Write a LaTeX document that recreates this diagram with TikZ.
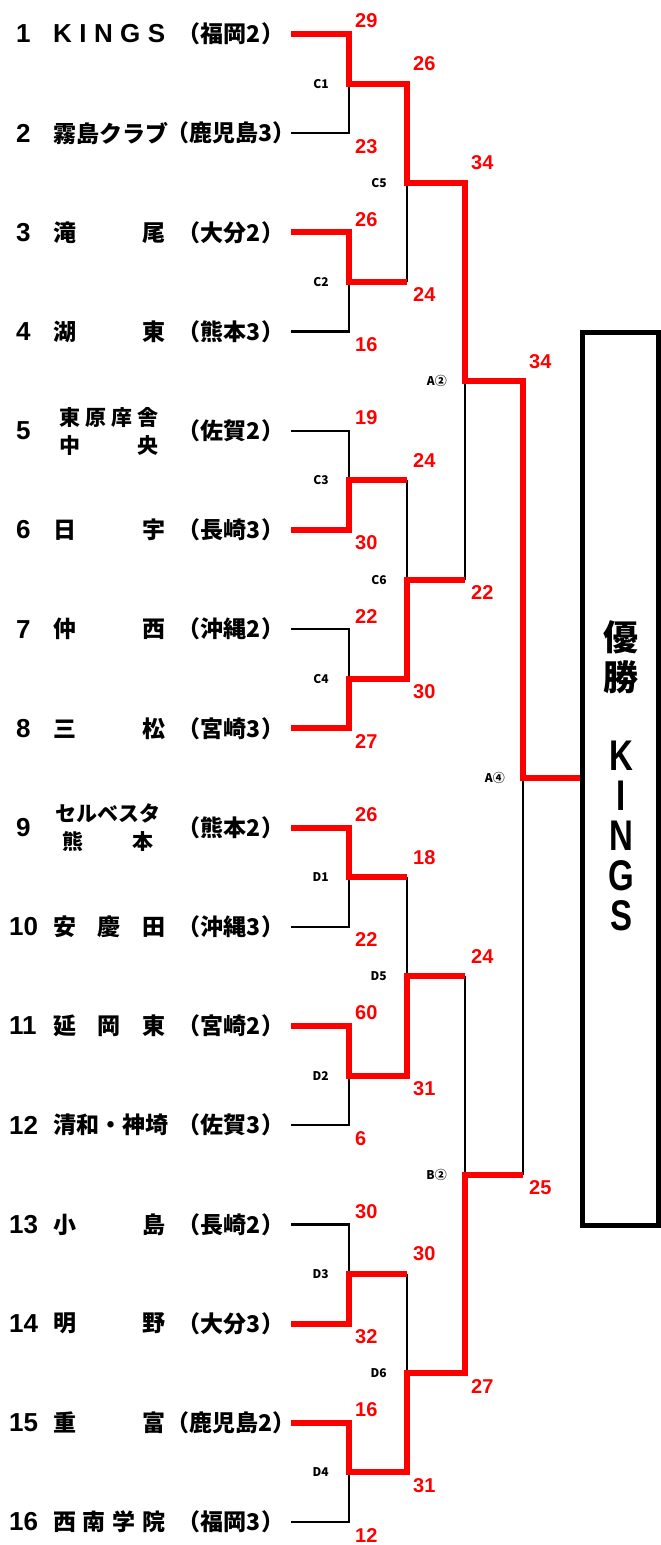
\documentclass[tikz,border=0pt]{standalone}
\usepackage{fontspec}
\setmainfont{Liberation Sans}
\newfontfamily\jp{Noto Sans CJK JP}
\usetikzlibrary{positioning}
\newcommand{\tallglyph}[1]{\scalebox{1}[1.3]{\rmfamily\bfseries\fontsize{33}{40}\selectfont #1}}

\begin{document}
\begin{tikzpicture} [
	x=1pt,y=-1pt,
	lose/.style={draw=black,line width=2.5pt},
	win/.style={draw=red,line width=6pt},
	num/.style={anchor=west,inner sep=0pt,font=\bfseries\fontsize{26}{26}\selectfont},
	tname/.style={anchor=west,inner sep=0pt,font=\jp\bfseries\fontsize{23}{23}\selectfont},
	twoline/.style={inner sep=0pt,align=center,font=\jp\bfseries\fontsize{21}{28}\selectfont},
	pref/.style={inner sep=0pt,font=\jp\bfseries\fontsize{23}{23}\selectfont},
	score/.style={anchor=west,inner sep=0pt,text=red,font=\bfseries\fontsize{20}{20}\selectfont},
	mlabel/.style={inner sep=0pt,font=\jp\bfseries\fontsize{12}{12}\selectfont},
	champ/.style={draw,line width=5pt,minimum width=76pt,minimum height=893pt}
]
\useasboundingbox (0,0) rectangle (661,1545);

\coordinate (t1) at (291,34);
\coordinate (t2) at (291,133.2);
\coordinate (t3) at (291,232.4);
\coordinate (t4) at (291,331.6);
\coordinate (t5) at (291,430.8);
\coordinate (t6) at (291,530);
\coordinate (t7) at (291,629.2);
\coordinate (t8) at (291,728.4);
\coordinate (t9) at (291,827.6);
\coordinate (t10) at (291,926.8);
\coordinate (t11) at (291,1026);
\coordinate (t12) at (291,1125.2);
\coordinate (t13) at (291,1224.4);
\coordinate (t14) at (291,1323.6);
\coordinate (t15) at (291,1422.8);
\coordinate (t16) at (291,1522);

\coordinate (C1) at (349,83.6);
\coordinate (C2) at (349,282);
\coordinate (C3) at (349,480.4);
\coordinate (C4) at (349,678.8);
\coordinate (D1) at (349,877.2);
\coordinate (D2) at (349,1075.6);
\coordinate (D3) at (349,1274);
\coordinate (D4) at (349,1472.4);
\coordinate (C5) at (407,182.8);
\coordinate (C6) at (407,579.6);
\coordinate (D5) at (407,976.4);
\coordinate (D6) at (407,1373.2);
\coordinate (A2) at (465,381.2);
\coordinate (B2) at (465,1174.8);
\coordinate (A4) at (523,778);

\node [num]	(n1) at (16,34)		{1};
\node [num]	(n2) at (16,133.2)	{2};
\node [num]	(n3) at (16,232.4)	{3};
\node [num]	(n4) at (16,331.6)	{4};
\node [num]	(n5) at (16,430.8)	{5};
\node [num]	(n6) at (16,530)	{6};
\node [num]	(n7) at (16,629.2)	{7};
\node [num]	(n8) at (16,728.4)	{8};
\node [num]	(n9) at (16,827.6)	{9};
\node [num]	(n10) at (9,926.8)	{10};
\node [num]	(n11) at (9,1026)	{11};
\node [num]	(n12) at (9,1125.2)	{12};
\node [num]	(n13) at (9,1224.4)	{13};
\node [num]	(n14) at (9,1323.6)	{14};
\node [num]	(n15) at (9,1422.8)	{15};
\node [num]	(n16) at (9,1522)	{16};

\node [tname]	(k1) at (53,34)		{\makebox[112pt]{\rmfamily\bfseries\fontsize{26}{26}\selectfont K\hfill I\hfill N\hfill G\hfill S}};
\node [tname]	(k2) at (53,133.2)	{\makebox[112pt][s]{霧島クラブ}};
\node [tname]	(k3) at (53,232.4)	{\makebox[112pt]{滝\hfill 尾}};
\node [tname]	(k4) at (53,331.6)	{\makebox[112pt]{湖\hfill 東}};
\node [twoline]	(k5) at (109,431.5)	{\makebox[100pt]{東\hfill 原\hfill 庠\hfill 舎}\\\makebox[100pt]{中\hfill 央}};
\node [tname]	(k6) at (53,530)	{\makebox[112pt]{日\hfill 宇}};
\node [tname]	(k7) at (53,629.2)	{\makebox[112pt]{仲\hfill 西}};
\node [tname]	(k8) at (53,728.4)	{\makebox[112pt]{三\hfill 松}};
\node [twoline]	(k9) at (108,827.6)	{\makebox[100pt]{セ\hfill ル\hfill ベ\hfill ス\hfill タ}\\\makebox[92pt]{熊\hfill 本}};
\node [tname]	(k10) at (53,926.8)	{\makebox[112pt]{安\hfill 慶\hfill 田}};
\node [tname]	(k11) at (53,1026)	{\makebox[112pt]{延\hfill 岡\hfill 東}};
\node [tname]	(k12) at (53,1125.2)	{\makebox[112pt][s]{清和・神埼}};
\node [tname]	(k13) at (53,1224.4)	{\makebox[112pt]{小\hfill 島}};
\node [tname]	(k14) at (53,1323.6)	{\makebox[112pt]{明\hfill 野}};
\node [tname]	(k15) at (53,1422.8)	{\makebox[112pt]{重\hfill 富}};
\node [tname]	(k16) at (53,1522)	{\makebox[112pt]{西\hfill 南\hfill 学\hfill 院}};

\node [pref]	(p1) at (231,34)	{（福岡2）};
\node [pref]	(p2) at (231,133.2)	{（鹿児島3）};
\node [pref]	(p3) at (231,232.4)	{（大分2）};
\node [pref]	(p4) at (231,331.6)	{（熊本3）};
\node [pref]	(p5) at (231,430.8)	{（佐賀2）};
\node [pref]	(p6) at (231,530)	{（長崎3）};
\node [pref]	(p7) at (231,629.2)	{（沖縄2）};
\node [pref]	(p8) at (231,728.4)	{（宮崎3）};
\node [pref]	(p9) at (231,827.6)	{（熊本2）};
\node [pref]	(p10) at (231,926.8)	{（沖縄3）};
\node [pref]	(p11) at (231,1026)	{（宮崎2）};
\node [pref]	(p12) at (231,1125.2)	{（佐賀3）};
\node [pref]	(p13) at (231,1224.4)	{（長崎2）};
\node [pref]	(p14) at (231,1323.6)	{（大分3）};
\node [pref]	(p15) at (231,1422.8)	{（鹿児島2）};
\node [pref]	(p16) at (231,1522)	{（福岡3）};

\node [champ]	(champ) at (620,778.5)	{};
\node [align=center,inner sep=0pt,font=\jp\bfseries\fontsize{35}{40}\selectfont] (wtxt) at (621,776)
	{優\\勝\\[40pt]\tallglyph{K}\\\tallglyph{I}\\\tallglyph{N}\\\tallglyph{G}\\\tallglyph{S}};

\draw [lose] (t2) -| (C1);
\draw [lose] (t4) -| (C2);
\draw [lose] (t5) -| (C3);
\draw [lose] (t7) -| (C4);
\draw [lose] (t10) -| (D1);
\draw [lose] (t12) -| (D2);
\draw [lose] (t13) -| (D3);
\draw [lose] (t16) -| (D4);
\draw [lose] (C2 -| C5) -- (C5);
\draw [lose] (C3 -| C6) -- (C6);
\draw [lose] (D1 -| D5) -- (D5);
\draw [lose] (D3 -| D6) -- (D6);
\draw [lose] (C6 -| A2) -- (A2);
\draw [lose] (D5 -| B2) -- (B2);
\draw [lose] (B2 -| A4) -- (A4);

\draw [win] (t1) -| (C1) -| (C5) -| (A2) -| (A4) -- (A4 -| champ.west);
\draw [win] (t3) -| (C2) -- (C2 -| C5);
\draw [win] (t6) -| (C3) -- (C3 -| C6);
\draw [win] (t8) -| (C4) -| (C6) -- (C6 -| A2);
\draw [win] (t9) -| (D1) -- (D1 -| D5);
\draw [win] (t11) -| (D2) -| (D5) -- (D5 -| B2);
\draw [win] (t14) -| (D3) -- (D3 -| D6);
\draw [win] (t15) -| (D4) -| (D6) -| (B2) -- (B2 -| A4);

\node [mlabel,left=20pt of C1]	(lC1)	{C1};
\node [mlabel,left=20pt of C2]	(lC2)	{C2};
\node [mlabel,left=20pt of C3]	(lC3)	{C3};
\node [mlabel,left=20pt of C4]	(lC4)	{C4};
\node [mlabel,left=20pt of D1]	(lD1)	{D1};
\node [mlabel,left=20pt of D2]	(lD2)	{D2};
\node [mlabel,left=20pt of D3]	(lD3)	{D3};
\node [mlabel,left=20pt of D4]	(lD4)	{D4};
\node [mlabel,left=20pt of C5]	(lC5)	{C5};
\node [mlabel,left=20pt of C6]	(lC6)	{C6};
\node [mlabel,left=20pt of D5]	(lD5)	{D5};
\node [mlabel,left=20pt of D6]	(lD6)	{D6};
\node [mlabel,left=18pt of A2]	(lA2)	{A②};
\node [mlabel,left=18pt of B2]	(lB2)	{B②};
\node [mlabel,left=18pt of A4]	(lA4)	{A④};

\node [score] (s1a) at (355,21)		{29};
\node [score] (s1b) at (355,146.2)	{23};
\node [score] (s2a) at (355,219.4)	{26};
\node [score] (s2b) at (355,344.6)	{16};
\node [score] (s3a) at (355,417.8)	{19};
\node [score] (s3b) at (355,543)	{30};
\node [score] (s4a) at (355,616.2)	{22};
\node [score] (s4b) at (355,741.4)	{27};
\node [score] (s5a) at (355,814.6)	{26};
\node [score] (s5b) at (355,939.8)	{22};
\node [score] (s6a) at (355,1013)	{60};
\node [score] (s6b) at (355,1138.2)	{6};
\node [score] (s7a) at (355,1211.4)	{30};
\node [score] (s7b) at (355,1336.6)	{32};
\node [score] (s8a) at (355,1409.8)	{16};
\node [score] (s8b) at (355,1535)	{12};
\node [score] (s9a) at (413,63.6)	{26};
\node [score] (s9b) at (413,295)	{24};
\node [score] (s10a) at (413,460.4)	{24};
\node [score] (s10b) at (413,691.8)	{30};
\node [score] (s11a) at (413,857.2)	{18};
\node [score] (s11b) at (413,1088.6)	{31};
\node [score] (s12a) at (413,1254)	{30};
\node [score] (s12b) at (413,1485.4)	{31};
\node [score] (s13a) at (471,162.8)	{34};
\node [score] (s13b) at (471,592.6)	{22};
\node [score] (s14a) at (471,956.4)	{24};
\node [score] (s14b) at (471,1386.2)	{27};
\node [score] (s15a) at (529,361.2)	{34};
\node [score] (s15b) at (529,1187.8)	{25};
\end{tikzpicture}
\end{document}
